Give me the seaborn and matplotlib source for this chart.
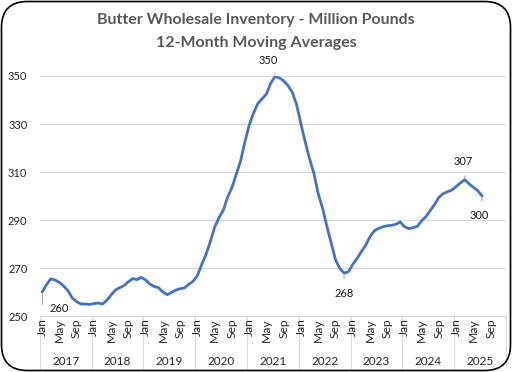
import numpy as np
import pandas as pd
import matplotlib
matplotlib.use('Agg')
import matplotlib.pyplot as plt
from matplotlib.patches import FancyBboxPatch
import seaborn as sns

# 12-month moving averages, million pounds, Jan 2017 .. Jul 2025
inv_2017 = [260.0, 263.0, 265.5, 265.0, 264.0, 262.5, 260.5, 257.5, 256.0, 255.0, 255.0, 254.8]
inv_2018 = [255.2, 255.4, 255.0, 256.5, 258.8, 260.8, 261.8, 262.7, 264.3, 265.6, 265.2, 266.1]
inv_2019 = [265.0, 263.3, 262.3, 261.8, 260.0, 258.9, 259.8, 260.8, 261.4, 261.7, 263.2, 264.5]
inv_2020 = [266.8, 271.5, 275.7, 281.0, 287.0, 291.0, 294.0, 299.5, 303.5, 309.0, 314.5, 322.5]
inv_2021 = [329.5, 334.5, 338.5, 340.5, 342.5, 347.0, 349.8, 349.2, 348.0, 346.0, 343.2, 338.0]
inv_2022 = [330.0, 322.5, 315.5, 309.5, 301.0, 295.0, 287.5, 280.5, 273.5, 269.8, 267.9, 268.4]
inv_2023 = [271.5, 274.0, 276.8, 279.5, 283.0, 285.5, 286.5, 287.2, 287.6, 287.8, 288.2, 289.2]
inv_2024 = [287.2, 286.4, 286.8, 287.4, 289.7, 291.5, 294.0, 296.5, 299.5, 301.0, 301.8, 302.5]
inv_2025 = [304.0, 305.5, 306.8, 305.0, 303.6, 302.2, 300.0]

years = [2017, 2018, 2019, 2020, 2021, 2022, 2023, 2024, 2025]
month_labels = ['Jan', 'May', 'Sep']
label_months = [0, 54, 70, 98, 102]   # points that carry a data label

values = inv_2017 + inv_2018 + inv_2019 + inv_2020 + inv_2021 + inv_2022 + inv_2023 + inv_2024 + inv_2025
df = pd.DataFrame({'month': np.arange(len(values)), 'inventory': values})

sns.set_style('white')
plt.rcParams['font.family'] = ['Lato', 'DejaVu Sans']

fig = plt.figure(figsize=(5.12, 3.72), dpi=100)
ax = fig.add_axes([0.078, 0.1505, 0.910, 0.6452])

sns.lineplot(data=df, x='month', y='inventory', color='#4472C4', linewidth=2.0, ax=ax)

n_months = len(years) * 12
ax.set_xlim(-0.5, n_months - 0.5)
ax.set_ylim(250, 350)
ax.set_yticks([250, 270, 290, 310, 330, 350])
ax.tick_params(axis='y', labelsize=8, colors='#262626', length=0, pad=9)
ax.yaxis.grid(True, color='#d9d9d9', linewidth=0.8)
ax.set_axisbelow(True)
for s in ['top', 'right', 'left']:
    ax.spines[s].set_visible(False)
ax.spines['bottom'].set_color('#d9d9d9')
ax.set_xlabel('')
ax.set_ylabel('')

# multi-level category axis
ax.set_xticks([])
tr = ax.get_xaxis_transform()
for k, yr in enumerate(years):
    start = k * 12
    for j, m in enumerate(month_labels):
        ax.text(start + j * 4, -0.008, m, transform=tr, rotation=90, ha='center', va='top',
                fontsize=8.7, color='#262626')
    ax.text(start + 5.5, -0.19, str(yr), transform=tr, ha='center', va='center',
            fontsize=8.5, color='#262626')
for k in range(len(years) + 1):
    ax.plot([k * 12 - 0.5] * 2, [0, -0.215], transform=tr, color='#d9d9d9', lw=0.8, clip_on=False)

# data labels
offsets = [(5, -11.7), (-5, 11.5), (0, -14.4), (-1.4, 13), (-2, -13.7)]
for i, (dx, dy) in zip(label_months, offsets):
    v = values[i]
    ax.annotate(f'{v:.0f}', xy=(i, v), xytext=(dx, dy), textcoords='offset points',
                ha='left' if i == 0 else 'center', va='center', fontsize=8, color='#1a1a1a',
                arrowprops=dict(arrowstyle='-', color='#a6a6a6', lw=0.8, shrinkA=4, shrinkB=1,
                                connectionstyle='angle,angleA=0,angleB=90,rad=0' if i == 0 else 'arc3'),
                annotation_clip=False)

fig.text(0.5, 0.945, 'Butter Wholesale Inventory - Million Pounds', ha='center', va='center',
         fontsize=11.5, fontweight='bold', color='#595959')
fig.text(0.5, 0.885, '12-Month Moving Averages', ha='center', va='center',
         fontsize=11.5, fontweight='bold', color='#595959')

border = FancyBboxPatch((0.015, 0.015), 5.09, 3.69, boxstyle='round,pad=0,rounding_size=0.26',
                        transform=fig.dpi_scale_trans, fill=False, edgecolor='black', lw=1.2)
fig.patches.append(border)

fig.savefig('out.png', dpi=100)
